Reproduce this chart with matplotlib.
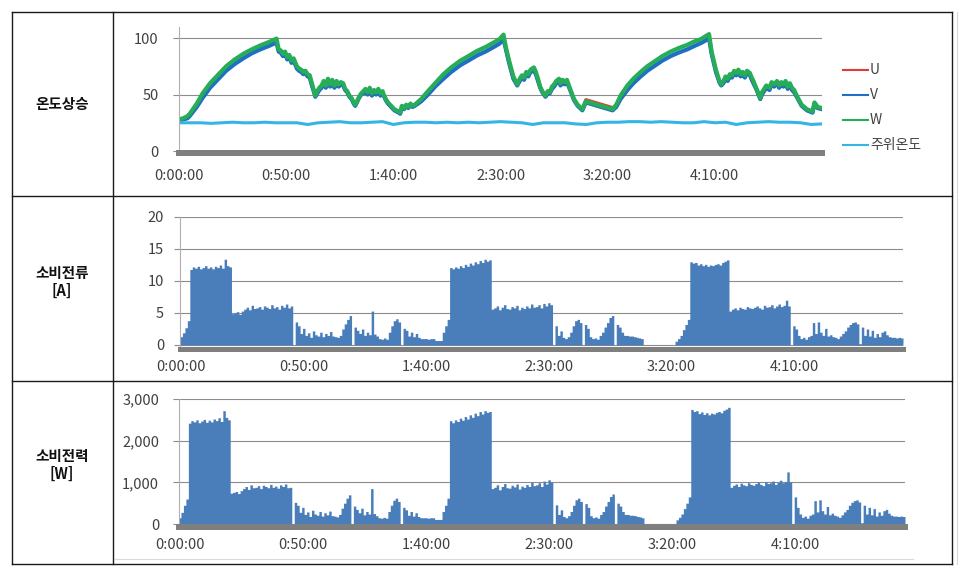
import numpy as np
import matplotlib.pyplot as plt
from matplotlib.lines import Line2D

plt.rcParams['font.family'] = ['Noto Sans CJK KR', 'DejaVu Sans']

# ---- data -------------------------------------------------------------
row_labels = ['온도상승', '소비전류\n[A]', '소비전력\n[W]']
time_labels = ['0:00:00', '0:50:00', '1:40:00', '2:30:00', '3:20:00', '4:10:00']
tick_minutes = [0, 50, 100, 150, 200, 250]
legend_names = ['U', 'V', 'W', '주위온도']

# winding temperatures (minutes, deg C)
temp_t = [0, 2, 4, 5, 8.3, 11, 14.5, 18, 22, 26, 30, 34, 38, 42, 45.5,
          46.5, 47.5, 48.5, 49.5, 50.5, 51.5, 52.5, 53.5, 55, 56, 57, 58, 59, 60, 61, 62, 63, 63.6,
          64.5, 65.5, 66.5, 67.5, 68.5, 69.5, 70.5, 71.5, 72.5, 73.5, 74.5, 75.5, 76.6, 77.5, 78.5,
          79.5, 80.5, 81.5, 82.2, 83, 84, 85, 86, 87, 88, 89, 90, 91, 92, 93, 94, 95, 95.5, 96.5,
          97.5, 98.5, 99.5, 100.5, 101.5, 102.5, 103.2, 104, 105, 106, 107, 108, 109, 110,
          113, 115.7, 119.5, 123.4, 127, 131.3, 135, 139, 143, 146.8, 149.5, 151.4,
          152.5, 154, 156, 157.8, 159, 160, 161, 162, 163, 164, 165.6, 166.5, 167.5, 168.5, 169.5,
          171, 172, 173, 174, 175, 176, 177.3, 178, 179, 180, 181, 182.5, 184.3, 186, 188.2, 189.8,
          202.3, 204, 206, 209.2, 212, 215.4, 218.5, 221.6, 225.5, 229.4, 233, 237.2, 240.5, 243.5, 247.3,
          248.5, 250.5, 252.3, 253, 254, 255, 256, 257, 258, 259, 260, 261, 262, 263, 264, 265, 266.4,
          267, 268, 269.5, 271.2, 272, 273, 274, 275.5, 276.5, 277.7, 279, 280, 281, 282, 283, 284,
          285, 286, 287, 288.5, 290.5, 293, 295.6, 296.5, 298, 300]
temp_w = [28, 29, 31, 33, 42, 51, 60, 67, 75, 81, 86, 90, 93.5, 96.5, 99.5,
          90, 89, 86, 88, 83, 85, 80, 82, 75, 73, 72, 70, 71, 68, 67, 60, 53, 49,
          53, 56, 58, 62, 58, 64, 59, 63, 58, 62, 59, 61, 60, 55, 53,
          49, 47, 43, 41, 44, 48, 51, 53, 55, 52, 56, 51, 54, 52, 55, 51, 53, 50, 46,
          43, 41, 39, 37, 36, 35, 34, 40, 38, 41, 39, 42, 40, 41,
          46, 52, 60, 68, 74, 80, 84, 88.5, 92, 96, 99, 103,
          92, 80, 66, 59, 64, 67, 65, 70, 68, 72, 74, 70, 64, 57, 53,
          49, 53, 52, 57, 59, 62, 64, 60, 63, 61, 63, 55, 46, 41, 37, 44,
          37, 41, 49, 58, 64, 70, 75, 79, 84, 88, 91, 94, 97, 99, 103.5,
          88, 72, 61, 59, 62, 66, 64, 68, 67, 71, 69, 72, 68, 70, 67, 71, 69,
          66, 62, 55, 47, 52, 55, 58, 56, 61, 59, 62, 58, 61, 59, 62, 57,
          60, 56, 54, 48, 41, 37, 35, 43, 39, 38]
temp_v = [27, 28, 29, 31, 39, 47, 56, 63, 71, 77, 82, 86.5, 90, 93, 96,
          88, 87, 84, 86, 81, 83, 78, 80, 73, 71, 70, 68, 69, 66, 65, 58, 52, 48,
          51, 54, 56, 60, 56, 62, 57, 61, 56, 60, 57, 59, 58, 54, 52,
          48, 46, 42, 40, 43, 47, 50, 51, 53, 50, 54, 49, 52, 50, 53, 49, 51, 49, 45,
          42, 40, 38, 36, 35, 34, 33, 39, 37, 40, 38, 41, 39, 40,
          44, 49, 57, 64, 70, 76, 80, 84.5, 88, 92, 95, 99,
          90, 78, 64, 58, 62, 65, 63, 68, 66, 70, 71, 68, 62, 56, 52,
          48, 51, 51, 55, 57, 60, 62, 58, 61, 59, 61, 54, 45, 40, 36, 43,
          36, 39, 46, 54, 60, 66, 71, 75, 80, 84, 87, 90, 93, 95.5, 99.5,
          86, 70, 60, 58, 60, 64, 62, 66, 65, 69, 67, 70, 66, 68, 65, 69, 67,
          64, 60, 54, 46, 50, 53, 56, 54, 59, 57, 60, 56, 59, 57, 60, 55,
          58, 54, 52, 47, 40, 36, 34, 42, 38, 37]
temp_u = [27, 28, 29.5, 31.5, 39.5, 47.5, 56.5, 63.5, 71.5, 77.5, 82.5, 87, 90.5, 93.5, 96.5,
          88, 87, 84, 86, 81, 83, 78, 80, 73, 71, 70, 68, 69, 66, 65, 58, 52, 48,
          51, 54, 56, 60, 56, 62, 57, 61, 56, 60, 57, 59, 58, 54, 52,
          48, 46, 42, 40, 43, 47, 50, 51, 53, 50, 54, 49, 52, 50, 53, 49, 51, 49, 45,
          42, 40, 38, 36, 35, 34, 33, 39, 37, 40, 38, 41, 39, 40,
          44, 49, 57, 64, 70, 76, 80, 84.5, 88, 92, 95, 99,
          90, 78, 64, 58, 62, 65, 63, 68, 66, 70, 71, 68, 62, 56, 52,
          48, 51, 51, 55, 57, 60, 62, 58, 61, 59, 61, 54, 45, 40, 37, 45.5,
          38.5, 39, 46, 54, 60, 66, 71, 75, 80, 84, 87, 90, 93, 95.5, 99.5,
          86, 70, 60, 58, 60, 64, 62, 66, 65, 69, 67, 70, 66, 68, 65, 69, 67,
          64, 60, 54, 46, 50, 53, 56, 54, 59, 57, 60, 56, 59, 57, 60, 55,
          58, 54, 52, 47, 40, 36, 34, 42, 38, 37]

# ambient temperature, every 5 minutes
amb_t = list(range(0, 301, 5))
amb = [25, 25, 25, 24.5, 25, 25.5, 25, 25, 25.5, 25,
       25, 25, 23.5, 25, 25.5, 26, 25, 25, 25.5, 26,
       23.5, 25, 25.5, 25.5, 25, 25.5, 25, 25.5, 25, 25.5,
       26, 25.5, 25, 23.5, 25, 25, 25, 24, 23.5, 25,
       25.5, 25.5, 26, 26, 25.5, 26, 25.5, 25, 25, 26,
       25, 25.5, 23.5, 25, 25.5, 26, 25.5, 25.5, 25, 23.5,
       24]

# current draw, one value per minute [A]
current = [
    1.3, 1.9, 2.7, 3.8,
    11.8, 12.2, 12.0, 12.3, 11.9, 12.1, 12.4, 12.0, 12.2, 11.9, 12.3, 12.1, 12.5, 12.0, 13.4, 12.4, 12.2,
    4.9, 5.0, 5.2, 4.8, 5.3, 5.6, 5.9, 5.5, 6.2, 5.7, 5.8, 6.0, 5.6, 6.1, 5.9, 5.7, 6.3, 5.8, 6.0, 5.6,
    6.2, 5.9, 6.4, 5.8, 6.1,
    0.0, 3.6, 3.0,
    1.8, 2.6, 1.5, 1.9, 1.2, 2.2, 1.6, 1.4, 2.0, 1.3, 1.8, 1.5, 2.1, 1.4, 1.3, 1.2,
    1.5, 2.5, 3.3, 4.0, 4.6, 0.0, 2.8, 2.3,
    1.8, 2.5, 1.5, 2.0, 1.6, 5.3, 1.7, 1.4,
    1.0, 0.9, 1.1, 0.9, 2.0, 3.0, 3.8, 4.1, 3.6, 0.0, 2.6, 2.3,
    1.4, 2.0, 1.3, 1.8, 1.2, 1.0, 1.0, 1.0, 0.9, 1.0, 1.0,
    0.7, 0.7, 0.7, 2.0, 3.0, 4.0,
    12.1, 11.9, 12.2, 12.0, 12.4, 12.1, 12.6, 12.3, 12.8, 12.5, 13.0, 12.7, 13.2, 12.9, 13.4, 13.1, 13.3,
    5.6, 5.8, 6.1, 5.5, 5.9, 6.3, 5.7, 5.6, 6.0, 5.8, 6.2, 5.5, 5.9, 5.7, 6.1, 5.8, 6.4, 5.9, 6.0, 6.3,
    5.8, 6.5, 6.1, 6.6, 6.3,
    0.0, 3.0, 1.5, 2.2, 1.2, 1.0, 1.3,
    2.0, 3.0, 3.8, 4.0, 3.5, 0.0, 3.2, 2.6,
    1.3, 1.0, 1.1, 0.9, 1.5, 2.0, 2.8, 3.5, 4.3, 4.6,
    0.0, 3.2, 2.8, 2.0,
    1.5, 1.5, 1.4, 1.4, 1.3, 1.2, 1.1, 1.0,
    0.0, 0.0, 0.0, 0.0, 0.0, 0.0, 0.0, 0.0, 0.0, 0.0, 0.0, 0.0, 0.0,
    0.6, 1.0, 1.5, 2.4, 3.2, 4.0,
    13.0, 12.8, 12.9, 12.5, 12.7, 12.4, 12.6, 12.3, 12.5, 12.4, 12.6, 12.7, 12.5, 12.9, 13.1, 13.3,
    5.3, 5.6, 5.8, 5.5, 5.9, 5.7, 5.6, 6.0, 5.8, 5.7, 5.9, 6.1, 5.8, 5.6, 6.2, 5.9, 6.0, 6.3, 5.8, 6.1,
    6.4, 6.0, 6.2, 7.0, 6.1,
    0.0, 3.0, 2.5,
    1.5, 1.0, 1.2, 0.9, 1.3, 1.5,
    3.5, 1.8, 3.6, 2.0,
    1.5, 2.6, 1.4, 1.6, 1.3, 1.2, 1.0,
    1.4, 1.8, 2.2, 2.8, 3.2, 3.5, 3.6, 3.3, 0.2,
    2.8, 1.5, 2.5, 1.4, 2.3, 1.2, 1.8, 1.3,
    2.0, 2.2, 1.6, 1.3, 1.2, 1.2, 1.1, 1.2, 1.1,
]

# power draw, one value per minute [W]
power = [
    150, 280, 450, 600,
    2420, 2480, 2450, 2500, 2430, 2470, 2510, 2440, 2490, 2450, 2520, 2480, 2550, 2460, 2720, 2560, 2500,
    740, 760, 780, 730, 800, 850, 900, 830, 940, 870, 880, 920, 850, 930, 900, 870, 950, 880, 910, 860,
    940, 900, 960, 870, 880,
    0, 520, 450,
    280, 400, 230, 290, 180, 330, 240, 210, 300, 190, 270, 220, 310, 200, 190, 170,
    230, 380, 500, 620, 700, 0, 430, 350,
    270, 380, 220, 300, 240, 850, 250, 200,
    150, 140, 160, 140, 300, 450, 570, 620, 540, 0, 400, 340,
    210, 300, 190, 270, 180, 150, 150, 150, 140, 150, 150,
    110, 110, 110, 300, 450, 620,
    2480, 2430, 2500, 2460, 2540, 2490, 2580, 2520, 2620, 2560, 2660, 2600, 2700, 2640, 2720, 2680, 2700,
    850, 880, 940, 820, 900, 970, 870, 860, 930, 890, 960, 840, 910, 880, 950, 900, 1000, 920, 940, 990,
    900, 1030, 960, 1060, 1000,
    0, 460, 230, 340, 180, 150, 200,
    300, 450, 580, 620, 540, 0, 490, 400,
    200, 150, 170, 140, 230, 300, 430, 540, 660, 720,
    0, 500, 430, 300,
    230, 230, 210, 210, 200, 180, 170, 150,
    0, 0, 0, 0, 0, 0, 0, 0, 0, 0, 0, 0, 0,
    100, 160, 240, 370, 500, 650,
    2750, 2700, 2720, 2650, 2690, 2630, 2670, 2620, 2660, 2640, 2680, 2700, 2670, 2730, 2760, 2800,
    880, 930, 960, 900, 980, 940, 920, 990, 950, 930, 970, 1000, 950, 920, 1020, 970, 990, 1030, 950, 1000,
    1050, 990, 1020, 1250, 1000,
    0, 650, 400,
    240, 160, 190, 140, 210, 240,
    560, 290, 580, 320,
    240, 420, 220, 260, 210, 190, 160,
    220, 290, 350, 450, 520, 560, 580, 530, 30,
    450, 240, 400, 220, 370, 190, 290, 210,
    320, 350, 260, 210, 190, 190, 180, 190, 180,
]

assert len(temp_t) == len(temp_w) == len(temp_v) == len(temp_u)
assert len(current) == len(power) == 295

# ---- layout helpers (pixel coords of the 963x576 image) ---------------
W_PX, H_PX = 963, 576
fig = plt.figure(figsize=(W_PX / 100, H_PX / 100), dpi=100)


def add_axes_px(left, top, right, bottom):
    return fig.add_axes([left / W_PX, 1 - bottom / H_PX,
                         (right - left) / W_PX, (bottom - top) / H_PX])


def fline(x0, y0, x1, y1, **kw):
    fig.add_artist(Line2D([x0 / W_PX, x1 / W_PX], [1 - y0 / H_PX, 1 - y1 / H_PX],
                          transform=fig.transFigure, **kw))


TXT = '#404040'
GRID = '#8c8c8c'
BAND = '#7f7f7f'
BAR = '#4a7ebb'
COLORS = ['#e03c35', '#1f6fc5', '#27ad57', '#35b4e6']


def style(ax, ylim, yticks, ylabels, band_lw, xpad, ypad):
    ax.set_ylim(*ylim)
    ax.spines['top'].set_visible(False)
    ax.spines['right'].set_visible(False)
    ax.spines['left'].set_color('#b0b0b0')
    ax.spines['left'].set_linewidth(0.8)
    ax.spines['bottom'].set_color(BAND)
    ax.spines['bottom'].set_linewidth(band_lw)
    ax.set_yticks(yticks, ylabels)
    ax.yaxis.grid(True, color=GRID, lw=0.8)
    ax.set_axisbelow(True)
    ax.tick_params(axis='y', length=4.5, width=0.8, color=GRID, labelsize=10.5,
                   labelcolor=TXT, pad=ypad)
    ax.tick_params(axis='x', length=0, labelsize=10.5, labelcolor=TXT, pad=xpad)
    ax.set_facecolor('none')


def columns(ax, values):
    # one filled step polygon; each minute is one column
    x = np.arange(len(values) + 1) - 0.5
    y = list(values) + [values[-1]]
    ax.fill_between(x, y, step='post', color=BAR, lw=0)
    ax.set_xlim(-0.5, len(values) - 0.5)


# ---- panel 1: temperature ---------------------------------------------
ax1 = add_axes_px(179, 26.7, 822, 153.3)
ax1.plot(temp_t, temp_u, color=COLORS[0], lw=2.2)
ax1.plot(temp_t, temp_v, color=COLORS[1], lw=3.0)
ax1.plot(temp_t, temp_w, color=COLORS[2], lw=3.0)
ax1.plot(amb_t, amb, color=COLORS[3], lw=2.2)
ax1.set_xlim(0, 300)
ax1.set_xticks(tick_minutes, time_labels)
style(ax1, (-2, 110), [0, 50, 100], ['0', '50', '100'], 4.3, 11.5, 10)

for i, (name, col) in enumerate(zip(legend_names, COLORS)):
    y = 70 + i * 25
    fline(843, y, 868, y, color=col, lw=1.5)
    fig.text(870 / W_PX, 1 - y / H_PX, name, fontsize=10, color=TXT,
             va='center', ha='left')

# ---- panel 2: current ---------------------------------------------------
ax2 = add_axes_px(180, 217, 903, 349)
columns(ax2, current)
ax2.set_xticks(tick_minutes, time_labels)
style(ax2, (-0.625, 20), [0, 5, 10, 15, 20], ['0', '5', '10', '15', '20'], 3.6, 8, 7)

# ---- panel 3: power -----------------------------------------------------
ax3 = add_axes_px(178.5, 399, 905, 527.3)
columns(ax3, power)
ax3.set_xticks(tick_minutes, time_labels)
style(ax3, (-79, 3000), [0, 1000, 2000, 3000], ['0', '1,000', '2,000', '3,000'], 4.3, 8, 9.5)

# ---- table frame and row headers ----------------------------------------
k = dict(color='#1a1a1a', lw=1.0)
fline(12, 12, 952, 12, **k)
fline(12, 564, 952, 564, **k)
fline(12, 12, 12, 564, **k)
fline(952, 12, 952, 564, **k)
fline(113, 12, 113, 564, **k)
fline(12, 196, 952, 196, **k)
fline(12, 381, 952, 381, **k)
fline(957, 12, 957, 564, color='#d9d9d9', lw=0.8)
fline(115, 559, 913, 559, color='#d9d9d9', lw=0.8)

for label, yc in zip(row_labels, [104, 282, 465]):
    fig.text(62 / W_PX, 1 - yc / H_PX, label, fontsize=10.5, fontweight='bold',
             color='#111111', ha='center', va='center', linespacing=1.15)

fig.savefig('out.png', dpi=100)
